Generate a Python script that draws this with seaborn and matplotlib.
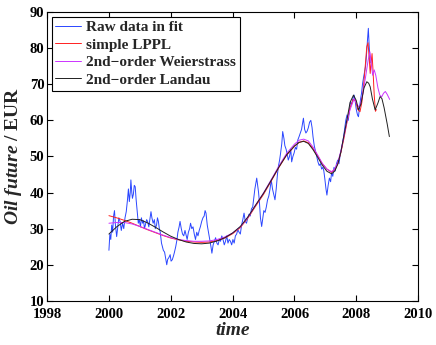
import matplotlib
matplotlib.use("Agg")
import matplotlib.pyplot as plt
import seaborn as sns
import pandas as pd

# raw oil future prices
raw_t = [2000.00, 2000.03, 2000.06, 2000.09, 2000.12, 2000.15, 2000.18, 2000.21, 2000.25, 2000.28,
         2000.32, 2000.36, 2000.40, 2000.44, 2000.48, 2000.52, 2000.56, 2000.60, 2000.63, 2000.66,
         2000.69, 2000.71, 2000.74, 2000.76, 2000.79, 2000.82, 2000.85, 2000.88, 2000.90, 2000.93,
         2000.95, 2000.98, 2001.02, 2001.05, 2001.09, 2001.12, 2001.15, 2001.19, 2001.22, 2001.25,
         2001.29, 2001.33, 2001.36, 2001.39, 2001.43, 2001.47, 2001.50, 2001.54, 2001.57, 2001.60,
         2001.63, 2001.66, 2001.70, 2001.73, 2001.76, 2001.80, 2001.83, 2001.87, 2001.90, 2001.94,
         2001.98, 2002.01, 2002.05, 2002.09, 2002.12, 2002.16, 2002.20, 2002.23, 2002.27, 2002.30,
         2002.34, 2002.38, 2002.42, 2002.46, 2002.50, 2002.53, 2002.57, 2002.61, 2002.64, 2002.68,
         2002.72, 2002.76, 2002.80, 2002.84, 2002.88, 2002.92, 2002.96, 2003.00, 2003.04, 2003.08,
         2003.11, 2003.14, 2003.18, 2003.22, 2003.26, 2003.30, 2003.33, 2003.37, 2003.41, 2003.45,
         2003.49, 2003.53, 2003.57, 2003.61, 2003.65, 2003.69, 2003.73, 2003.77, 2003.81, 2003.85,
         2003.89, 2003.93, 2003.97, 2004.01, 2004.05, 2004.09, 2004.13, 2004.17, 2004.21, 2004.25,
         2004.29, 2004.33, 2004.37, 2004.41, 2004.45, 2004.49, 2004.53, 2004.57, 2004.61, 2004.65,
         2004.69, 2004.72, 2004.75, 2004.78, 2004.81, 2004.84, 2004.87, 2004.90, 2004.94, 2004.97,
         2005.01, 2005.05, 2005.09, 2005.13, 2005.17, 2005.21, 2005.25, 2005.29, 2005.33, 2005.37,
         2005.41, 2005.45, 2005.48, 2005.52, 2005.55, 2005.59, 2005.62, 2005.66, 2005.69, 2005.73,
         2005.77, 2005.80, 2005.84, 2005.88, 2005.91, 2005.95, 2005.99, 2006.03, 2006.07, 2006.11,
         2006.15, 2006.19, 2006.23, 2006.26, 2006.29, 2006.33, 2006.37, 2006.41, 2006.45, 2006.49,
         2006.53, 2006.57, 2006.60, 2006.64, 2006.68, 2006.72, 2006.76, 2006.80, 2006.84, 2006.88,
         2006.92, 2006.95, 2006.98, 2007.02, 2007.05, 2007.09, 2007.13, 2007.17, 2007.20, 2007.24,
         2007.28, 2007.32, 2007.36, 2007.40, 2007.44, 2007.48, 2007.52, 2007.56, 2007.59, 2007.63,
         2007.66, 2007.70, 2007.74, 2007.78, 2007.81, 2007.85, 2007.89, 2007.93, 2007.97, 2008.00,
         2008.04, 2008.07, 2008.11, 2008.14, 2008.17, 2008.20, 2008.23, 2008.26, 2008.30, 2008.33,
         2008.36, 2008.39, 2008.42, 2008.45]
raw_v = [24.0, 28.5, 27.0, 31.0, 29.0, 33.5, 35.0, 31.0, 27.8, 30.0,
         33.0, 32.0, 29.5, 31.5, 30.0, 33.0, 34.7, 38.0, 41.0, 37.5,
         40.0, 43.5, 40.0, 38.4, 39.5, 42.0, 41.6, 38.0, 36.1, 33.0,
         31.5, 32.5, 30.5, 33.0, 31.5, 32.2, 30.0, 31.5, 32.5, 32.0,
         30.5, 33.0, 34.7, 33.0, 31.5, 32.5, 30.0, 31.0, 33.0, 32.0,
         30.0, 29.0, 26.0, 25.0, 24.0, 23.5, 22.0, 20.0, 21.5, 22.0,
         22.8, 21.0, 21.4, 22.5, 23.5, 25.0, 26.9, 29.0, 30.5, 32.0,
         30.0, 28.5, 28.0, 29.5, 28.0, 27.0, 29.0, 30.0, 31.5, 30.0,
         30.5, 28.5, 27.0, 29.0, 28.0, 29.5, 30.6, 32.0, 33.0, 33.5,
         35.0, 34.3, 31.0, 29.0, 26.9, 25.0, 23.2, 25.5, 26.5, 27.5,
         26.0, 25.5, 27.0, 26.5, 28.0, 27.0, 25.5, 26.5, 28.0, 26.0,
         27.0, 26.5, 25.5, 27.0, 26.0, 28.0, 28.5, 29.7, 29.0, 28.5,
         31.0, 32.5, 34.3, 32.0, 31.5, 33.0, 34.0, 33.5, 35.5, 36.0,
         39.0, 41.0, 42.5, 44.0, 42.0, 40.0, 37.0, 33.0, 30.6, 32.5,
         35.0, 34.5, 36.0, 38.0, 39.0, 41.0, 43.5, 41.0, 39.5, 38.0,
         41.0, 45.0, 47.2, 49.0, 50.8, 53.5, 56.9, 55.0, 53.0, 52.0,
         50.5, 49.0, 50.0, 52.0, 48.5, 50.0, 51.0, 52.5, 52.0, 54.6,
         55.5, 56.5, 57.5, 59.0, 60.6, 57.5, 56.5, 57.0, 58.0, 59.5,
         60.0, 58.0, 55.5, 53.0, 51.5, 50.0, 48.5, 47.5, 48.0, 46.5,
         47.0, 46.0, 44.0, 41.0, 39.3, 42.0, 44.0, 43.0, 45.5, 44.5,
         47.0, 46.0, 48.0, 49.0, 48.0, 50.5, 52.0, 54.0, 55.5, 58.0,
         60.0, 61.5, 60.0, 63.0, 65.0, 64.5, 66.0, 67.0, 65.0, 63.0,
         61.5, 61.0, 64.0, 66.0, 67.5, 70.0, 71.6, 73.0, 75.0, 78.0,
         82.0, 85.5, 80.0, 76.0]

# simple LPPL fit
lppl_t = [2000.0, 2000.25, 2000.5, 2000.75, 2001.0, 2001.25, 2001.5, 2001.75, 2002.0, 2002.25,
          2002.5, 2002.75, 2003.0, 2003.25, 2003.5, 2003.75, 2004.0, 2004.25, 2004.5, 2004.75,
          2005.0, 2005.25, 2005.5, 2005.75, 2006.0, 2006.15, 2006.3, 2006.45, 2006.6, 2006.75,
          2006.9, 2007.05, 2007.2, 2007.3, 2007.4, 2007.5, 2007.6, 2007.7, 2007.8, 2007.9,
          2007.97, 2008.05, 2008.12, 2008.18, 2008.23, 2008.28, 2008.34, 2008.38, 2008.42, 2008.45,
          2008.48, 2008.51, 2008.54, 2008.58, 2008.62, 2008.65]
lppl_v = [33.6, 33.0, 32.3, 31.5, 30.6, 29.7, 28.9, 28.1, 27.4, 26.9,
          26.5, 26.3, 26.2, 26.3, 26.7, 27.4, 28.6, 30.3, 33.0, 36.3,
          39.5, 43.2, 47.0, 50.4, 52.8, 53.9, 54.3, 53.8, 52.2, 50.2,
          48.0, 46.5, 45.6, 46.3, 48.0, 51.0, 55.0, 59.5, 63.5, 65.8,
          65.5, 63.0, 62.4, 65.0, 69.0, 74.0, 80.4, 81.5, 77.0, 73.0,
          76.0, 78.5, 74.0, 67.0, 62.5, 63.0]

# 2nd-order Weierstrass fit
weier_t = [2000.0, 2000.25, 2000.5, 2000.75, 2001.0, 2001.25, 2001.5, 2001.75, 2002.0, 2002.25,
           2002.5, 2002.75, 2003.0, 2003.25, 2003.5, 2003.75, 2004.0, 2004.25, 2004.5, 2004.75,
           2005.0, 2005.25, 2005.5, 2005.75, 2006.0, 2006.15, 2006.3, 2006.45, 2006.6, 2006.75,
           2006.9, 2007.05, 2007.2, 2007.3, 2007.4, 2007.5, 2007.6, 2007.7, 2007.8, 2007.93,
           2008.02, 2008.1, 2008.2, 2008.3, 2008.38, 2008.44, 2008.48, 2008.53, 2008.58, 2008.63,
           2008.7, 2008.76, 2008.82, 2008.88, 2008.94, 2009.0, 2009.08]
weier_v = [31.5, 31.7, 31.7, 31.3, 30.6, 29.8, 29.0, 28.2, 27.5, 27.0,
           26.7, 26.5, 26.5, 26.6, 27.0, 27.7, 28.8, 30.5, 33.2, 36.6,
           39.9, 43.6, 47.4, 50.9, 53.4, 54.5, 54.8, 54.3, 52.6, 50.4,
           48.1, 46.5, 45.8, 46.5, 48.3, 51.5, 55.5, 59.8, 63.0, 66.0,
           64.5, 63.5, 67.0, 72.0, 76.5, 79.0, 76.0, 72.5, 74.0, 72.5,
           69.0, 67.0, 66.5, 67.5, 68.0, 67.2, 65.8]

# 2nd-order Landau fit
landau_t = [2000.0, 2000.25, 2000.5, 2000.75, 2001.0, 2001.25, 2001.5, 2001.75, 2002.0, 2002.25,
            2002.5, 2002.75, 2003.0, 2003.25, 2003.5, 2003.75, 2004.0, 2004.25, 2004.5, 2004.75,
            2005.0, 2005.25, 2005.5, 2005.75, 2006.0, 2006.15, 2006.3, 2006.45, 2006.6, 2006.75,
            2006.9, 2007.05, 2007.2, 2007.3, 2007.4, 2007.5, 2007.6, 2007.7, 2007.8, 2007.91,
            2008.0, 2008.07, 2008.15, 2008.25, 2008.34, 2008.4, 2008.45, 2008.52, 2008.61, 2008.7,
            2008.77, 2008.83, 2008.9, 2009.0, 2009.07]
landau_v = [28.5, 30.5, 32.0, 32.6, 32.5, 31.6, 30.4, 29.1, 27.9, 27.0,
            26.3, 25.9, 25.8, 26.0, 26.6, 27.5, 28.8, 30.6, 33.3, 36.6,
            39.8, 43.4, 47.1, 50.5, 52.9, 53.9, 54.2, 53.6, 51.9, 49.8,
            47.6, 45.9, 45.2, 45.9, 47.8, 51.2, 55.8, 60.3, 65.0, 67.0,
            65.5, 62.9, 64.5, 69.0, 70.7, 70.3, 69.3, 66.0, 62.9, 64.8,
            66.6, 66.0, 63.5, 59.0, 55.5]

series = [
    ("Raw data in fit", raw_t, raw_v, "#2a46ff"),
    ("simple LPPL", lppl_t, lppl_v, "#ff2020"),
    ("2nd\u2212order Weierstrass", weier_t, weier_v, "#cc33ff"),
    ("2nd\u2212order Landau", landau_t, landau_v, "#202020"),
]

sns.set_style("ticks")
plt.rcParams['font.family'] = ['Liberation Serif', 'DejaVu Serif']
plt.rcParams['font.weight'] = 'bold'
plt.rcParams['mathtext.fontset'] = 'custom'
plt.rcParams['mathtext.it'] = 'Liberation Serif:italic:bold'
plt.rcParams['mathtext.rm'] = 'Liberation Serif:bold'
plt.rcParams['mathtext.bf'] = 'Liberation Serif:bold'

fig = plt.figure(figsize=(4.36, 3.45), dpi=100)
ax = fig.add_axes([0.108, 0.128, 0.851, 0.837])

for name, t, v, c in series:
    df = pd.DataFrame({"t": t, "v": v})
    sns.lineplot(data=df, x="t", y="v", ax=ax, color=c, linewidth=0.7,
                 sort=False, estimator=None, label=name)

ax.set_xlim(1998, 2010)
ax.set_ylim(10, 90)
ax.set_xticks(range(1998, 2011, 2))
ax.set_yticks(range(10, 91, 10))
ax.tick_params(direction="in", length=4, width=0.8, top=True, right=True,
               labelsize=10.5, colors="black")
ax.tick_params(axis="x", pad=5)
ax.tick_params(axis="y", pad=2)
for lab in ax.get_xticklabels() + ax.get_yticklabels():
    lab.set_fontweight("bold")
for s in ax.spines.values():
    s.set_linewidth(0.8)
    s.set_color("black")

ax.set_xlabel("time", fontsize=14, fontweight="bold", fontstyle="italic", labelpad=1)
ax.set_ylabel("$\\mathit{Oil\\ future}$ / EUR", fontsize=14, fontweight="bold", labelpad=4)

leg = ax.legend(loc="upper left", frameon=True, fancybox=False, framealpha=1,
                edgecolor="black", fontsize=11, borderaxespad=0.3,
                handlelength=1.7, handletextpad=0.3, borderpad=0.25, labelspacing=0.25)
leg.get_frame().set_linewidth(0.8)
for txt in leg.get_texts():
    txt.set_fontweight("bold")

fig.savefig("out.png", dpi=100)
